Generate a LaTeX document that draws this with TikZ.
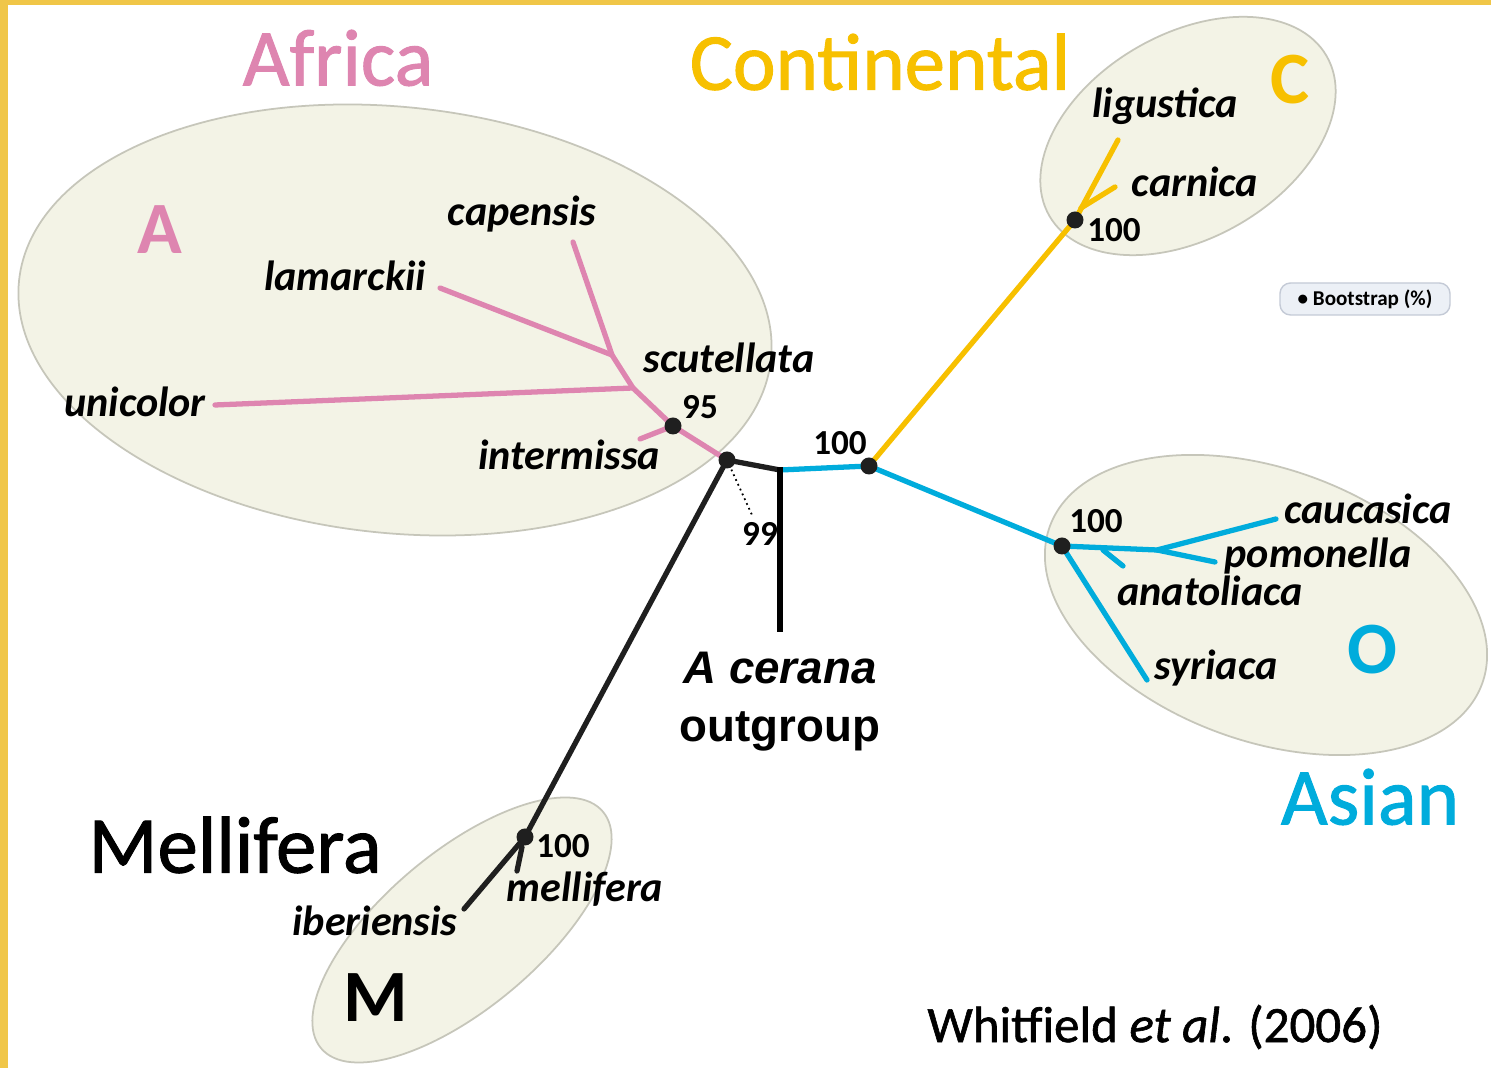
\documentclass[tikz,border=0pt]{standalone}
\usepackage{fontspec}
\setmainfont{Carlito}
\newfontfamily\arialfont{Liberation Sans}
\newfontfamily\heavyfont[FakeBold=1.2]{Carlito}
\usepackage{tikz}
\usetikzlibrary{
  positioning,
  arrows.meta
}
\usepackage{xcolor}
\definecolor{africapink}{RGB}{222,133,176}
\definecolor{contyellow}{RGB}{247,192,0}
\definecolor{asianblue}{RGB}{0,172,220}
\definecolor{cladefill}{RGB}{243,243,230}
\definecolor{cladeline}{RGB}{198,198,186}
\definecolor{borderyellow}{RGB}{240,198,72}
\definecolor{legendfill}{RGB}{236,240,246}
\definecolor{legendline}{RGB}{196,202,214}

\begin{document}
\begin{tikzpicture}[
    branch/.style={line width=1.5pt, line cap=round, line join=round},
    clade/.style={fill=cladefill, draw=cladeline, line width=0.5pt},
    leaf/.style={font=\fontsize{12}{14}\selectfont\bfseries\itshape, inner sep=0pt},
    boot/.style={font=\fontsize{10}{12}\selectfont\bfseries, inner sep=0pt},
    region/.style={font=\heavyfont\fontsize{23}{26}\selectfont, inner sep=0pt},
    letter/.style={font=\fontsize{21}{24}\selectfont\bfseries, inner sep=0pt},
    dot/.style={circle, fill=black!88, inner sep=0pt, minimum size=0.17cm}
  ]
            \useasboundingbox (0,0) rectangle (14.91,10.68);
            \fill[white] (0,0) rectangle (14.91,10.68);
            \fill[borderyellow] (0,0) rectangle (0.08,10.68);
            \fill[borderyellow] (0,10.63) rectangle (14.91,10.68);

            \draw[clade, rotate around={-6:(3.95,7.48)}] (3.95,7.48) ellipse (3.78 and 2.13);
            \draw[clade, rotate around={30:(11.88,9.32)}] (11.88,9.32) ellipse (1.60 and 1.02);
            \draw[clade, rotate around={-20:(12.66,4.63)}] (12.66,4.63) ellipse (2.30 and 1.36);
            \draw[clade, rotate around={40:(4.62,1.38)}] (4.62,1.38) ellipse (1.84 and 0.78);

            \coordinate (root) at (7.27,6.08);
            \coordinate (afr95) at (6.73,6.42);
            \coordinate (afrU) at (6.33,6.80);
            \coordinate (afrL) at (6.12,7.13);
            \coordinate (capTip) at (5.73,8.26);
            \coordinate (lamTip) at (4.40,7.80);
            \coordinate (uniTip) at (2.15,6.63);
            \coordinate (intTip) at (6.40,6.29);
            \coordinate (outK) at (7.80,5.98);
            \coordinate (outEnd) at (7.80,4.36);
            \coordinate (bootEnd) at (7.52,5.53);
            \coordinate (n100) at (8.69,6.02);
            \coordinate (c100) at (10.75,8.48);
            \coordinate (cBr) at (10.81,8.60);
            \coordinate (ligTip) at (11.18,9.28);
            \coordinate (carTip) at (11.15,8.81);
            \coordinate (o100) at (10.62,5.22);
            \coordinate (oBr) at (11.03,5.18);
            \coordinate (oSplit) at (11.57,5.18);
            \coordinate (cauTip) at (12.76,5.49);
            \coordinate (pomTip) at (12.15,5.06);
            \coordinate (anaTip) at (11.23,5.02);
            \coordinate (syrTip) at (11.47,3.88);
            \coordinate (m100) at (5.25,2.31);
            \coordinate (mBr) at (5.22,2.21);
            \coordinate (melTip) at (5.17,1.97);
            \coordinate (ibeTip) at (4.64,1.59);

            \draw[branch, africapink] (root) -- (afr95) -- (afrU) -- (afrL) -- (capTip);
            \draw[branch, africapink] (afrL) -- (lamTip);
            \draw[branch, africapink] (afrU) -- (uniTip);
            \draw[branch, africapink] (afr95) -- (intTip);
            \draw[branch, asianblue] (outK) -- (n100) -- (o100) -- (oSplit) -- (cauTip);
            \draw[branch, asianblue] (oSplit) -- (pomTip);
            \draw[branch, asianblue] (oBr) -- (anaTip);
            \draw[branch, asianblue] (o100) -- (syrTip);
            \draw[branch, contyellow] (n100) -- (c100) -- (ligTip);
            \draw[branch, contyellow] (cBr) -- (carTip);
            \draw[branch, black!88] (root) -- (m100) -- (ibeTip);
            \draw[branch, black!88] (mBr) -- (melTip);
            \draw[line width=1.5pt, black!88, line join=miter] (root) -- (outK);
            \draw[line width=1.6pt, black] ([yshift=0.75pt]outK) -- (outEnd);
            \draw[densely dotted, line width=0.5pt] (root) -- (bootEnd);

            \node[dot] (rootDot) at (root) {};
            \node[dot] (afrDot) at (afr95) {};
            \node[dot] (midDot) at (n100) {};
            \node[dot] (contDot) at (c100) {};
            \node[dot] (asDot) at (o100) {};
            \node[dot] (melDot) at (m100) {};

            \node[leaf] (capensis) at (5.22,8.54) {capensis};
            \node[leaf] (lamarckii) at (3.45,7.92) {lamarckii};
            \node[leaf] (scutellata) at (7.29,7.10) {scutellata};
            \node[leaf] (unicolor) at (1.35,6.66) {unicolor};
            \node[leaf] (intermissa) at (5.69,6.13) {intermissa};
            \node[leaf] (ligustica) at (11.65,9.62) {ligustica};
            \node[leaf] (carnica) at (11.95,8.86) {carnica};
            \node[leaf] (caucasica) at (13.68,5.59) {caucasica};
            \node[leaf] (pomonella) at (13.18,5.12) {pomonella};
            \node[leaf] (anatoliaca) at (12.10,4.77) {anatoliaca};
            \node[leaf] (syriaca) at (12.16,4.00) {syriaca};
            \node[leaf] (mellifera) at (5.85,1.79) {mellifera};
            \node[leaf] (iberiensis) at (3.75,1.47) {iberiensis};

            \node[boot] (b95) at (7.00,6.61) {95};
            \node[boot] (b99) at (7.60,5.34) {99};
            \node[boot] (bMid) at (8.40,6.25) {100};
            \node[boot] (bCont) at (11.14,8.38) {100};
            \node[boot] (bAs) at (10.96,5.47) {100};
            \node[boot] (bMel) at (5.63,2.22) {100};

            \node[region, africapink] (africa) at (3.38,10.10) {Africa};
            \node[region, contyellow] (continental) at (8.80,10.06) {Continental};
            \node[region, asianblue] (asian) at (13.70,2.71) {Asian};
            \node[region] (melliferaRegion) at (2.35,2.23) {Mellifera};
            \node[letter, africapink] (letterA) at (1.60,8.38) {A};
            \node[letter, contyellow] (letterC) at (12.90,9.88) {C};
            \node[letter, asianblue] (letterO) at (13.72,4.18) {O};
            \node[letter] (letterM) at (3.76,0.70) {M};

            \node[font=\arialfont\fontsize{13}{15}\selectfont\bfseries, align=center, inner sep=0pt] (outgroup) at (7.80,3.66) {\textit{A cerana}\\[1.5pt]outgroup};
            \node[font=\heavyfont\fontsize{14.5}{17}\selectfont, inner sep=0pt] (source) at (11.55,0.41) {Whitfield \textit{et al}. (2006)};
            \node[draw=legendline, fill=legendfill, rounded corners=3pt, minimum width=1.70cm, minimum height=0.32cm, inner sep=0pt, font=\fontsize{6}{7}\selectfont\bfseries] (legend) at (13.65,7.69) {\textbullet\ Bootstrap (\%)};
        \end{tikzpicture}
\end{document}
